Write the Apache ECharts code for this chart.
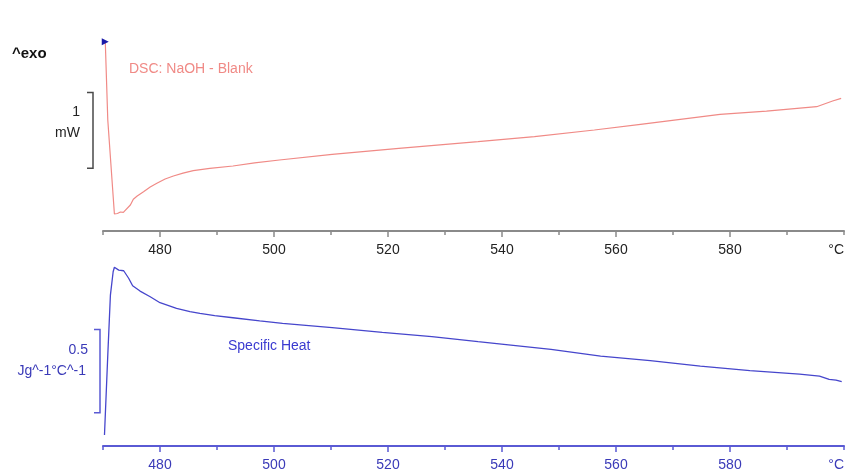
<!DOCTYPE html>
<html><head><meta charset="utf-8">
<script src="https://cdn.jsdelivr.net/npm/echarts@6/dist/echarts.min.js"></script>
<style>html,body{margin:0;padding:0;background:#fff}#c{width:847px;height:474px}</style>
</head><body><div id="c"></div>
<script>
// DSC heat flow of the NaOH blank run (mW, arbitrary baseline)
const dscTemp = [470.4, 470.84, 472.0, 472.53, 473.05, 473.57, 473.92, 474.8, 475.32, 476.0, 477.11, 478.28, 479.45, 480.9, 482.35, 484.04, 485.83, 488.74, 492.8, 496.6, 500.95, 510.2, 521.9, 535.8, 545.7, 556.2, 564.3, 578.25, 586.4, 595.2, 598.0, 599.5];
const dscFlow = [0.50, -0.534, -1.775, -1.769, -1.749, -1.753, -1.732, -1.657, -1.581, -1.538, -1.481, -1.419, -1.370, -1.313, -1.273, -1.236, -1.203, -1.173, -1.141, -1.099, -1.062, -0.987, -0.908, -0.820, -0.754, -0.666, -0.591, -0.458, -0.415, -0.358, -0.283, -0.247];

// Specific heat (J g^-1 °C^-1, arbitrary baseline)
const cpTemp = [470.26, 470.84, 471.3, 471.78, 472.0, 472.76, 473.63, 474.5, 475.2, 476.5, 478.28, 480.0, 482.9, 485.26, 487.0, 489.6, 492.8, 497.5, 501.5, 510.2, 519.0, 527.7, 535.8, 539.9, 548.6, 557.3, 566.0, 574.8, 583.5, 592.2, 595.7, 597.4, 598.6, 599.6];
const cpValue = [0.066, 0.546, 0.906, 1.046, 1.073, 1.056, 1.052, 1.007, 0.962, 0.930, 0.896, 0.860, 0.826, 0.807, 0.796, 0.783, 0.770, 0.751, 0.736, 0.710, 0.682, 0.656, 0.626, 0.612, 0.580, 0.540, 0.512, 0.480, 0.452, 0.432, 0.420, 0.400, 0.396, 0.386];

const majorTicks = [480, 500, 520, 540, 560, 580];
const tickLabels = [480, 500, 520, 540, 560, 580, 600];
const unitLabel = '°C';

// scale bars: [from, to] in data units
const dscBar = [-1.17, -0.17];
const cpBar = [0.2, 0.7];

const FONT = 'Liberation Sans';
const DSC_COLOR = '#f08a86';
const CP_COLOR = '#4646cc';
const TOP_AXIS = '#8a8a8a';
const BOT_AXIS = '#5a5ad4';

function pairs(xs, ys) { return xs.map((x, i) => [x, ys[i]]); }

function xAxes(gridIndex, lineColor, labelColor) {
  return [
    { type: 'value', gridIndex, min: 470, max: 600, interval: 10, position: 'bottom',
      axisLine: { show: true, onZero: false, lineStyle: { color: lineColor, width: 2 } },
      axisTick: { show: true, length: 4, lineStyle: { color: lineColor, width: 1.5 } },
      axisLabel: { show: false }, splitLine: { show: false } },
    { type: 'value', gridIndex, min: 470, max: 600, interval: 10, position: 'bottom',
      axisLine: { show: false, onZero: false },
      axisTick: { show: true, length: 6, customValues: majorTicks, lineStyle: { color: lineColor, width: 1.5 } },
      axisLabel: { show: true, customValues: tickLabels, margin: 12, color: labelColor,
        fontSize: 14, fontFamily: FONT, alignMaxLabel: 'right',
        formatter: v => (v === 600 ? unitLabel : String(v)) },
      splitLine: { show: false } }
  ];
}

const chart = echarts.init(document.getElementById('c'), null, { renderer: 'canvas' });

const startFlag = (t, v) => ({ value: [t, v], symbol: 'triangle', symbolSize: 7, symbolRotate: -90,
  itemStyle: { color: '#1a1aa8' } });

const dscData = pairs(dscTemp, dscFlow);
dscData[0] = startFlag(dscTemp[0], dscFlow[0]);

chart.setOption({
  animation: false,
  backgroundColor: '#ffffff',
  grid: [
    { left: 103, width: 744, top: 34.2, height: 196.8 },
    { left: 103, width: 744, top: 246.1, height: 199.9 }
  ],
  xAxis: [...xAxes(0, TOP_AXIS, '#222222'), ...xAxes(1, BOT_AXIS, '#3a3ab8')],
  yAxis: [
    { type: 'value', gridIndex: 0, min: -2.0, max: 0.6, show: false },
    { type: 'value', gridIndex: 1, min: 0, max: 1.2, show: false }
  ],
  series: [
    { type: 'line', xAxisIndex: 0, yAxisIndex: 0, data: dscData, symbol: 'none',
      showAllSymbol: true, lineStyle: { color: DSC_COLOR, width: 1.2 }, itemStyle: { color: DSC_COLOR } },
    { type: 'line', xAxisIndex: 2, yAxisIndex: 1, data: pairs(cpTemp, cpValue), symbol: 'none',
      lineStyle: { color: CP_COLOR, width: 1.3 } }
  ]
});

function bracket(xPix, y1, y2, color) {
  return { type: 'polyline', silent: true,
    shape: { points: [[xPix - 6, y1], [xPix, y1], [xPix, y2], [xPix - 6, y2]] },
    style: { stroke: color, lineWidth: 1.5, fill: null } };
}

const tY0 = chart.convertToPixel({ yAxisIndex: 0 }, dscBar[0]);
const tY1 = chart.convertToPixel({ yAxisIndex: 0 }, dscBar[1]);
const bY0 = chart.convertToPixel({ yAxisIndex: 1 }, cpBar[0]);
const bY1 = chart.convertToPixel({ yAxisIndex: 1 }, cpBar[1]);

chart.setOption({
  graphic: [
    bracket(93, tY1, tY0, '#4a4a4a'),
    bracket(100, bY1, bY0, BOT_AXIS),
    { type: 'text', left: 12, top: 46, style: { text: '^exo', fill: '#111', font: 'bold 15px ' + FONT } },
    { type: 'text', x: 80, y: 112, style: { text: '1', fill: '#222', font: '14px ' + FONT, align: 'right', verticalAlign: 'middle' } },
    { type: 'text', x: 80, y: 133, style: { text: 'mW', fill: '#222', font: '14px ' + FONT, align: 'right', verticalAlign: 'middle' } },
    { type: 'text', x: 129, y: 69, style: { text: 'DSC: NaOH - Blank', fill: DSC_COLOR, font: '14px ' + FONT, verticalAlign: 'middle' } },
    { type: 'text', x: 88, y: 350, style: { text: '0.5', fill: '#3a3ab8', font: '14px ' + FONT, align: 'right', verticalAlign: 'middle' } },
    { type: 'text', x: 86, y: 371, style: { text: 'Jg^-1°C^-1', fill: '#3a3ab8', font: '14px ' + FONT, align: 'right', verticalAlign: 'middle' } },
    { type: 'text', x: 228, y: 346, style: { text: 'Specific Heat', fill: '#3a3ad0', font: '14px ' + FONT, verticalAlign: 'middle' } }
  ]
});
</script>
</body></html>
